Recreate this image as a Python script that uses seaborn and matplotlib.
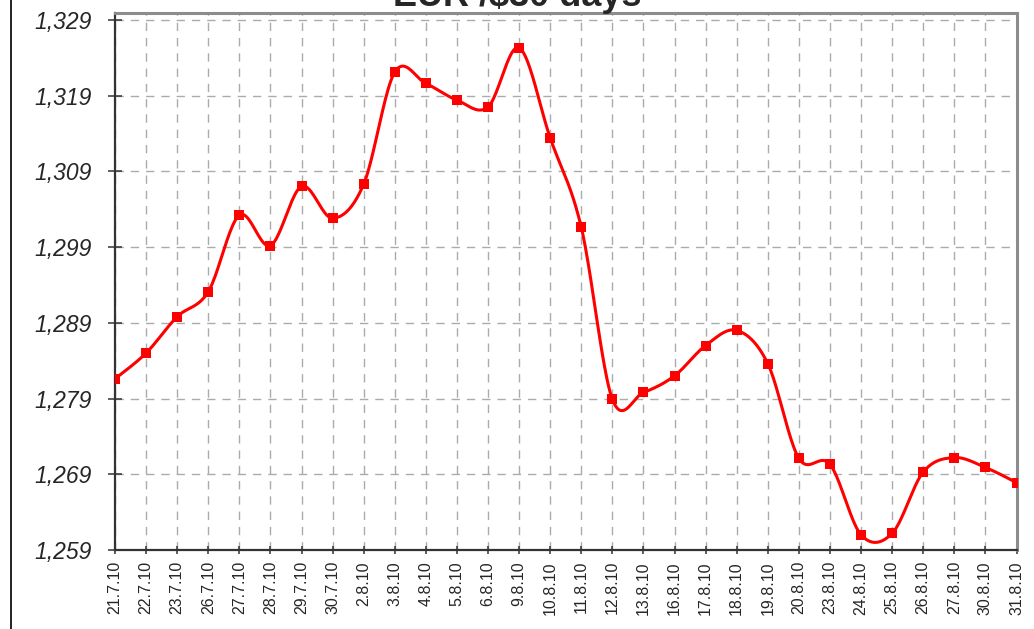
import numpy as np
import pandas as pd
import matplotlib.pyplot as plt
from matplotlib.lines import Line2D
import seaborn as sns


###################################################################
# data
###################################################################

dates = ["21.7.10", "22.7.10", "23.7.10", "26.7.10", "27.7.10", "28.7.10",
         "29.7.10", "30.7.10", "2.8.10", "3.8.10", "4.8.10", "5.8.10",
         "6.8.10", "9.8.10", "10.8.10", "11.8.10", "12.8.10", "13.8.10",
         "16.8.10", "17.8.10", "18.8.10", "19.8.10", "20.8.10", "23.8.10",
         "24.8.10", "25.8.10", "26.8.10", "27.8.10", "30.8.10", "31.8.10"]

rates = [1.2816, 1.2850, 1.2898, 1.2931, 1.3032, 1.2992,
         1.3070, 1.3028, 1.3073, 1.3221, 1.3206, 1.3184,
         1.3175, 1.3253, 1.3134, 1.3016, 1.2789, 1.2798,
         1.2820, 1.2860, 1.2880, 1.2836, 1.2711, 1.2703,
         1.2610, 1.2612, 1.2693, 1.2712, 1.2699, 1.2679]

y_ticks = [1.259, 1.269, 1.279, 1.289, 1.299, 1.309, 1.319, 1.329]
y_labels = ["1,259", "1,269", "1,279", "1,289", "1,299", "1,309", "1,319", "1,329"]

title = "EUR /$30 days"


###################################################################
# smoothed line like the spreadsheet one (bezier through the points)
###################################################################

def smooth_curve(x, y, steps=24):
    p = np.column_stack([x, y]).astype(float)
    p = np.vstack([p[:1], p, p[-1:]])
    t = np.linspace(0, 1, steps)[:, None]
    out = []
    for i in range(1, len(p) - 2):
        b0 = p[i]
        b3 = p[i + 1]
        b1 = b0 + (p[i + 1] - p[i - 1]) / 6
        b2 = b3 - (p[i + 2] - p[i]) / 6
        seg = ((1 - t) ** 3) * b0 + 3 * ((1 - t) ** 2) * t * b1 \
            + 3 * (1 - t) * t ** 2 * b2 + t ** 3 * b3
        out.append(seg if i == 1 else seg[1:])
    out = np.vstack(out)
    return out[:, 0], out[:, 1]


df = pd.DataFrame({"date": dates, "rate": rates})
df["pos"] = np.arange(len(df))
cx, cy = smooth_curve(df["pos"].values, df["rate"].values)
curve = pd.DataFrame({"pos": cx, "rate": cy})


###################################################################
# plot
###################################################################

sns.set_theme(style="white")
plt.rcParams["font.family"] = ["Liberation Sans", "DejaVu Sans"]

fig = plt.figure(figsize=(10.34, 6.29), dpi=100)
ax = fig.add_axes([115 / 1034, 1 - 550 / 629, 901.5 / 1034, 537 / 629])

sns.lineplot(data=curve, x="pos", y="rate", ax=ax, color="#ff0000",
             linewidth=2.2, sort=False, estimator=None, zorder=3)
sns.scatterplot(data=df, x="pos", y="rate", ax=ax, marker="s", s=62,
                color="#ff0000", edgecolor="#ff0000", linewidth=0, zorder=4)

ax.set_xlim(0, len(dates) - 1)
ax.set_ylim(1.259, 1.3299)

ax.set_xticks(df["pos"])
ax.set_xticklabels(dates, rotation=90, fontsize=11.5)
ax.set_yticks(y_ticks)
ax.set_yticklabels(y_labels, fontsize=16.5, style="italic")
ax.set_xlabel("")
ax.set_ylabel("")

ax.grid(True, color="#ababab", linestyle=(0, (6, 5)), linewidth=1.0)
ax.set_axisbelow(True)

ax.tick_params(axis="x", direction="inout", length=6, width=1.1,
               color="#333333", pad=5, bottom=True)
ax.tick_params(axis="y", direction="inout", length=10, width=1.1,
               color="#333333", pad=12, left=True)

for s in ["left", "bottom"]:
    ax.spines[s].set_color("#333333")
    ax.spines[s].set_linewidth(1.6)
for s in ["top", "right"]:
    ax.spines[s].set_color("#8c8c8c")
    ax.spines[s].set_linewidth(2.2)

# title sits mostly above the visible area, as in the reference
fig.text(0.5, 1 - 6 / 629, title, ha="center", va="baseline",
         fontsize=26, fontweight="bold")

# outer chart border
fig.add_artist(Line2D([11 / 1034, 11 / 1034], [0, 1], transform=fig.transFigure,
                      color="#222222", linewidth=1.4))

fig.savefig("out.png", dpi=100)
